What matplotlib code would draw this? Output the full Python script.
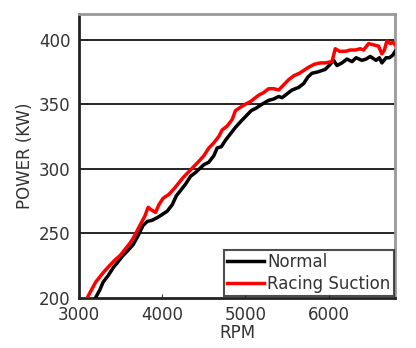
import matplotlib
matplotlib.use("Agg")
import matplotlib.pyplot as plt

# RPM / power (kW)
rpm_normal = [3200, 3250, 3290, 3350, 3420, 3460, 3520, 3580, 3650, 3710, 3770, 3820,
              3880, 3940, 3990, 4060, 4120, 4170, 4220, 4280, 4340, 4400, 4450, 4500,
              4560, 4620, 4660, 4710, 4760, 4820, 4880, 4950, 5010, 5070, 5130, 5200,
              5280, 5340, 5400, 5440, 5500, 5560, 5640, 5700, 5750, 5800, 5870, 5960,
              6020, 6060, 6100, 6160, 6220, 6280, 6330, 6400, 6450, 6500, 6570, 6610,
              6640, 6690, 6730, 6770, 6800]
pw_normal = [200, 206, 212, 217, 224, 227, 232, 236, 241, 248, 256, 259,
             260, 262, 264, 267, 272, 279, 283, 288, 294, 297, 300, 303,
             305, 310, 316, 317, 322, 327, 332, 337, 341, 345, 347, 350,
             353, 354, 356, 355, 358, 361, 363, 366, 371, 374, 375, 377,
             381, 384, 380, 382, 385, 383, 386, 384, 385, 387, 384, 386,
             382, 386, 386, 388, 391]

rpm_racing = [3100, 3150, 3200, 3250, 3300, 3370, 3430, 3500, 3560, 3610, 3650, 3700,
              3740, 3790, 3830, 3870, 3920, 3960, 4010, 4080, 4150, 4200, 4250, 4310,
              4370, 4430, 4500, 4560, 4620, 4680, 4720, 4780, 4840, 4880, 4950, 5000,
              5060, 5120, 5160, 5220, 5280, 5340, 5400, 5460, 5520, 5580, 5650, 5720,
              5770, 5830, 5900, 5960, 6040, 6080, 6130, 6200, 6260, 6320, 6380, 6420,
              6480, 6540, 6600, 6640, 6670, 6700, 6740, 6770, 6800]
pw_racing = [200, 206, 212, 216, 220, 225, 229, 233, 238, 242, 246, 252,
             257, 263, 270, 268, 266, 272, 277, 280, 285, 289, 293, 297,
             301, 305, 310, 316, 320, 325, 330, 333, 338, 345, 348, 350,
             352, 355, 357, 359, 362, 362, 361, 365, 369, 372, 374, 377,
             379, 381, 382, 382, 383, 393, 391, 391, 392, 392, 393, 392,
             397, 396, 395, 389, 392, 399, 397, 398, 396]

plt.figure(figsize=(4.16, 3.48), dpi=100)
ax = plt.gca()
ax.set_facecolor("white")
for y in [250, 300, 350, 400]:
    ax.axhline(y, color="black", lw=1.2, zorder=1)
ax.plot(rpm_normal, pw_normal, color="black", lw=2.5, label="Normal", zorder=3)
ax.plot(rpm_racing, pw_racing, color="#ff0000", lw=2.5, label="Racing Suction", zorder=4)

ax.set_xlim(3000, 6800)
ax.set_ylim(200, 420)
ax.set_xticks([3000, 4000, 5000, 6000])
ax.set_yticks([200, 250, 300, 350, 400])
ax.tick_params(axis="both", labelsize=12, colors="#333333", direction="in", length=3)
ax.tick_params(axis="x", pad=6)
ax.tick_params(axis="y", length=0, pad=6)
ax.set_xlabel("RPM", fontsize=12, color="#333333", labelpad=0)
ax.set_ylabel("POWER (KW)", fontsize=12, color="#333333", labelpad=4)

ax.spines["left"].set_linewidth(2)
ax.spines["bottom"].set_linewidth(2)
ax.spines["left"].set_color("#222222")
ax.spines["bottom"].set_color("#222222")
ax.spines["top"].set_color("#999999")
ax.spines["right"].set_color("#999999")
ax.spines["top"].set_linewidth(2)
ax.spines["right"].set_linewidth(2)

leg = ax.legend(loc="lower right", fontsize=12, frameon=True, fancybox=False,
                borderpad=0.2, handlelength=2.2, handletextpad=0.2, labelspacing=0.2,
                borderaxespad=0.1)
leg.get_frame().set_edgecolor("#222222")
leg.get_frame().set_linewidth(1.5)
for t in leg.get_texts():
    t.set_color("#333333")

plt.subplots_adjust(left=0.19, right=0.95, top=0.96, bottom=0.145)
plt.savefig("out.png", dpi=100)
